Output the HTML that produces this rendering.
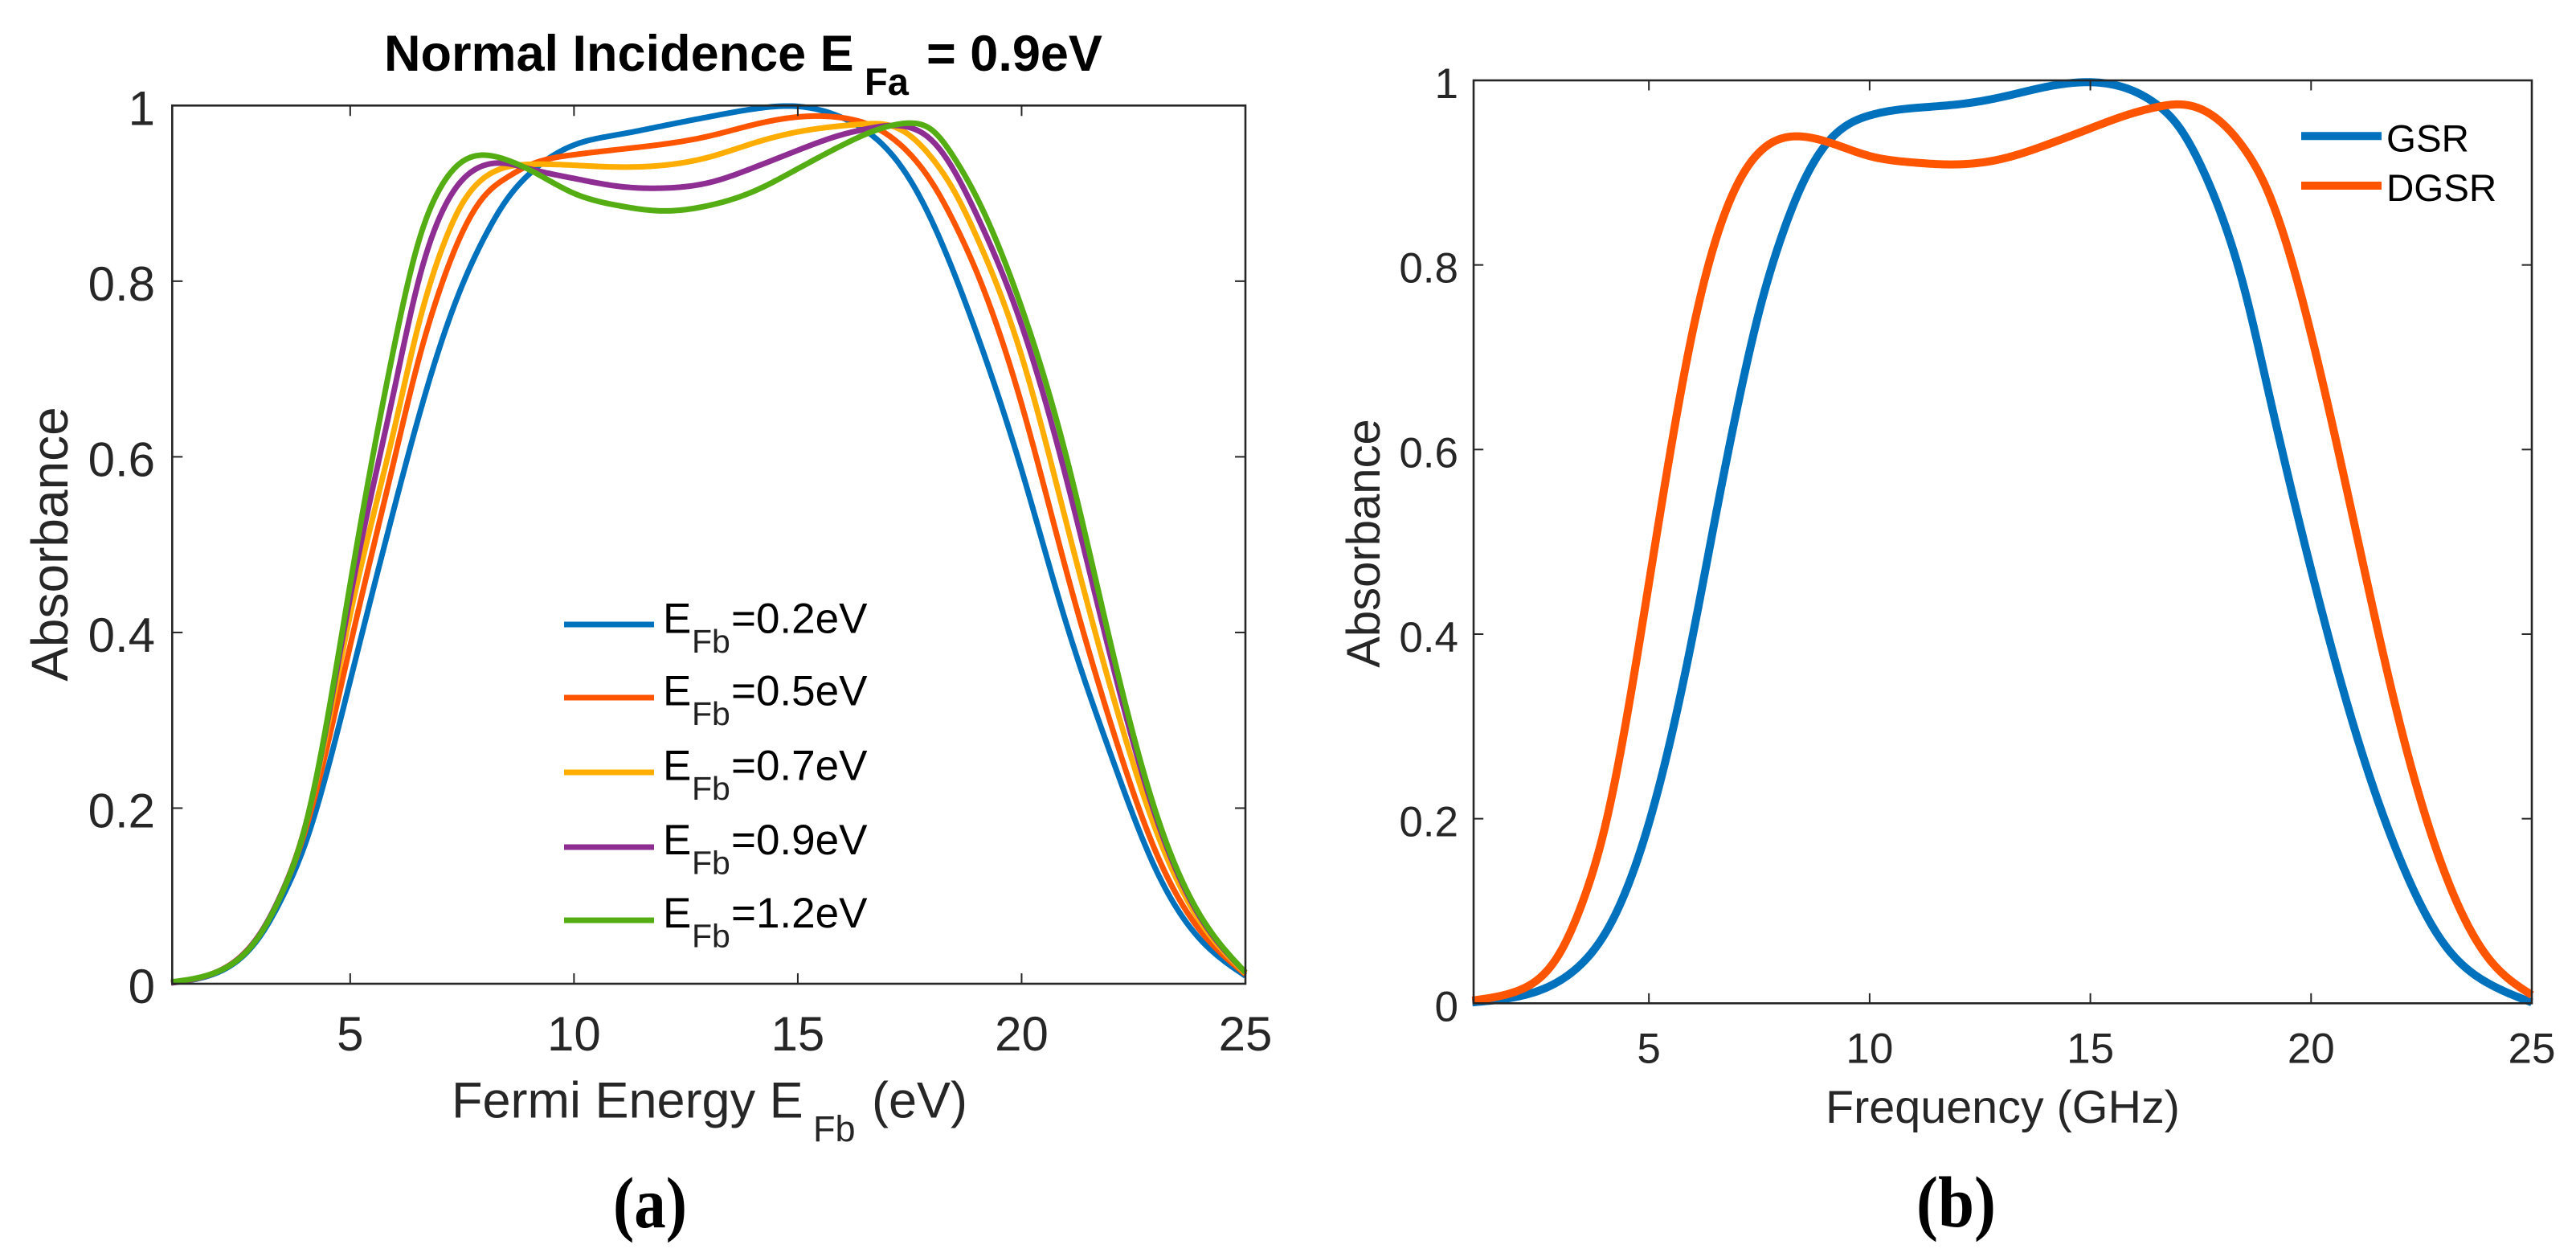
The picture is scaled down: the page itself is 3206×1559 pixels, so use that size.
<!DOCTYPE html>
<html lang="en">
<head>
<meta charset="utf-8">
<title>Absorbance charts</title>
<style>
html,body{margin:0;padding:0;background:#fff}
svg{display:block}
text{font-family:"Liberation Sans",Arial,sans-serif}
.tick-label{fill:#262626}
.serif{font-family:"Liberation Serif",serif;font-weight:bold;fill:#000}
</style>
</head>
<body>
<svg id="figure" xmlns="http://www.w3.org/2000/svg" width="3206" height="1559" viewBox="0 0 3206 1559">
  <rect x="0" y="0" width="3206" height="1559" fill="#fff"/>

  <g id="panel-a">
    <g id="a-lines"></g>
    <rect x="214.3" y="131.3" width="1335.7" height="1092.7" fill="none" stroke="#262626" stroke-width="2.6"/>
    <g id="a-ticks"></g>
    <text x="478" y="88" font-size="63" font-weight="bold" fill="#000">Normal Incidence E</text>
    <text x="1076" y="118" font-size="47" font-weight="bold" fill="#000">Fa</text>
    <text x="1153" y="88" font-size="63" font-weight="bold" fill="#000">= 0.9eV</text>
    <text x="562" y="1390.5" font-size="63" fill="#262626">Fermi Energy E</text>
    <text x="1012" y="1420" font-size="45" fill="#262626">Fb</text>
    <text x="1085" y="1390.5" font-size="63" fill="#262626">(eV)</text>
    <text transform="translate(84,677) rotate(-90)" text-anchor="middle" font-size="64" fill="#262626">Absorbance</text>
    <g id="a-legend"></g>
    <text x="763" y="1527" font-size="90" textLength="92" lengthAdjust="spacingAndGlyphs" class="serif">(a)</text>
  </g>

  <g id="panel-b">
    <g id="b-lines"></g>
    <rect x="1834" y="100" width="1317" height="1148.3" fill="none" stroke="#262626" stroke-width="2.6"/>
    <g id="b-ticks"></g>
    <text x="2272" y="1397" font-size="57.5" fill="#262626">Frequency (GHz)</text>
    <text transform="translate(1717,676) rotate(-90)" text-anchor="middle" font-size="58" fill="#262626">Absorbance</text>
    <g id="b-legend"></g>
    <text x="2385" y="1526" font-size="90" textLength="99" lengthAdjust="spacingAndGlyphs" class="serif">(b)</text>
  </g>
</svg>

<script>
// ---------- Panel (a): absorbance vs Fermi energy ----------
const aXTicks = [5, 10, 15, 20, 25];
const aYTicks = [0, 0.2, 0.4, 0.6, 0.8, 1];
const aYTickLabels = ['0', '0.2', '0.4', '0.6', '0.8', '1'];
const aSeriesNames = ['0.2eV', '0.5eV', '0.7eV', '0.9eV', '1.2eV'];

const aSamples = [1, 2, 3, 3.5, 4, 5, 6, 6.5, 7, 7.5, 8, 8.5, 9, 10, 11, 12, 13, 14, 15, 16, 16.5, 17, 17.5, 18, 18.5, 19, 20, 21, 22, 23, 24, 25];
const efb02 = [0.001, 0.012, 0.055, 0.1, 0.16, 0.345, 0.545, 0.64, 0.725, 0.795, 0.85, 0.893, 0.922, 0.955, 0.967, 0.977, 0.987, 0.996, 0.999, 0.986, 0.972, 0.95, 0.916, 0.868, 0.808, 0.74, 0.585, 0.41, 0.26, 0.13, 0.05, 0.009];
const efb05 = [0.001, 0.013, 0.058, 0.106, 0.175, 0.385, 0.6, 0.705, 0.79, 0.855, 0.897, 0.918, 0.932, 0.944, 0.95, 0.956, 0.965, 0.978, 0.987, 0.986, 0.98, 0.967, 0.945, 0.912, 0.866, 0.81, 0.66, 0.47, 0.295, 0.15, 0.06, 0.011];
const efb07 = [0.001, 0.013, 0.058, 0.107, 0.18, 0.42, 0.635, 0.745, 0.83, 0.888, 0.918, 0.93, 0.933, 0.932, 0.93, 0.932, 0.941, 0.957, 0.97, 0.977, 0.979, 0.978, 0.966, 0.94, 0.902, 0.85, 0.715, 0.525, 0.335, 0.175, 0.07, 0.012];
const efb09 = [0.001, 0.013, 0.058, 0.107, 0.18, 0.44, 0.68, 0.795, 0.873, 0.915, 0.932, 0.934, 0.928, 0.917, 0.908, 0.906, 0.912, 0.929, 0.949, 0.967, 0.973, 0.977, 0.975, 0.96, 0.925, 0.875, 0.75, 0.575, 0.37, 0.19, 0.075, 0.013];
const efb12 = [0.002, 0.013, 0.057, 0.106, 0.18, 0.455, 0.73, 0.84, 0.905, 0.936, 0.9435, 0.938, 0.927, 0.9, 0.886, 0.88, 0.886, 0.902, 0.928, 0.955, 0.967, 0.976, 0.98, 0.972, 0.94, 0.895, 0.77, 0.6, 0.385, 0.195, 0.077, 0.013];

// ---------- Panel (b): absorbance vs frequency ----------
const bXTicks = [5, 10, 15, 20, 25];
const bYTicks = [0, 0.2, 0.4, 0.6, 0.8, 1];
const bYTickLabels = ['0', '0.2', '0.4', '0.6', '0.8', '1'];
const bSeriesNames = ['GSR', 'DGSR'];

const bSamples = [1, 2, 3, 3.5, 4, 5, 6, 6.5, 7, 7.5, 8, 8.5, 9, 10, 11, 12, 13, 14, 15, 16, 16.5, 17, 17.5, 18, 18.5, 19, 20, 21, 22, 23, 24, 25];
const gsr = [0.001, 0.007, 0.025, 0.044, 0.075, 0.195, 0.4, 0.525, 0.645, 0.75, 0.83, 0.89, 0.93, 0.962, 0.97, 0.974, 0.982, 0.993, 0.998, 0.988, 0.974, 0.95, 0.908, 0.85, 0.772, 0.67, 0.47, 0.295, 0.158, 0.065, 0.022, 0.001];
const dgsr = [0.003, 0.013, 0.056, 0.11, 0.19, 0.455, 0.73, 0.825, 0.887, 0.922, 0.937, 0.939, 0.934, 0.918, 0.911, 0.909, 0.915, 0.93, 0.948, 0.965, 0.971, 0.974, 0.969, 0.953, 0.925, 0.882, 0.725, 0.515, 0.305, 0.145, 0.05, 0.009];

const SVG_NS = 'http://www.w3.org/2000/svg';
const FRAME_A = { left: 213, right: 1550, top: 131.3, bottom: 1224 };
const FRAME_B = { left: 1832.4, right: 3151, top: 100, bottom: 1248.3 };

function axisX(frame, v) { return frame.left + (v - 1) / 24 * (frame.right - frame.left); }
function axisY(frame, v) { return frame.bottom - v * (frame.bottom - frame.top); }

function make(tag, attrs, text) {
  const el = document.createElementNS(SVG_NS, tag);
  for (const k in attrs) el.setAttribute(k, attrs[k]);
  if (text !== undefined) el.textContent = text;
  return el;
}

// Natural cubic spline through the read samples, so curves stay smooth.
function splineSecondDerivatives(xs, ys) {
  const n = xs.length;
  const y2 = new Array(n).fill(0);
  const u = new Array(n).fill(0);
  for (let i = 1; i < n - 1; i++) {
    const sig = (xs[i] - xs[i - 1]) / (xs[i + 1] - xs[i - 1]);
    const p = sig * y2[i - 1] + 2;
    y2[i] = (sig - 1) / p;
    const d = (ys[i + 1] - ys[i]) / (xs[i + 1] - xs[i]) - (ys[i] - ys[i - 1]) / (xs[i] - xs[i - 1]);
    u[i] = (6 * d / (xs[i + 1] - xs[i - 1]) - sig * u[i - 1]) / p;
  }
  for (let k = n - 2; k >= 0; k--) y2[k] = y2[k] * y2[k + 1] + u[k];
  return y2;
}

function curvePath(frame, xs, ys) {
  const y2 = splineSecondDerivatives(xs, ys);
  let d = '';
  for (let i = 0; i < xs.length - 1; i++) {
    const h = xs[i + 1] - xs[i];
    const steps = Math.max(4, Math.round(h * 16));
    for (let s = (i === 0 ? 0 : 1); s <= steps; s++) {
      const b = s / steps, a = 1 - b;
      const v = a * ys[i] + b * ys[i + 1] + ((a * a * a - a) * y2[i] + (b * b * b - b) * y2[i + 1]) * h * h / 6;
      const px = axisX(frame, xs[i] + b * h);
      const py = axisY(frame, v);
      d += (d ? 'L' : 'M') + px.toFixed(2) + ' ' + py.toFixed(2);
    }
  }
  return d;
}

function drawSeries(parent, frame, xs, ys, color, width, name) {
  const path = make('path', { d: curvePath(frame, xs, ys), fill: 'none', stroke: color, 'stroke-width': width, 'stroke-linejoin': 'round' });
  
  
  parent.appendChild(path);
}

function drawTicks(parent, frame, xTicks, yTicks, yLabels, opt) {
  xTicks.forEach(v => {
    const x = axisX(frame, v);
    if (v < 25) {
      const t1 = make('line', { x1: x, x2: x, y1: frame.bottom, y2: frame.bottom - opt.len, stroke: '#262626', 'stroke-width': 2 });
      
      
      parent.appendChild(t1);
      const t2 = make('line', { x1: x, x2: x, y1: frame.top, y2: frame.top + opt.len, stroke: '#262626', 'stroke-width': 2 });
      
      
      parent.appendChild(t2);
    }
    const lab = make('text', { x: x, y: opt.xBase, 'text-anchor': 'middle', 'font-size': opt.font, class: 'tick-label' }, String(v));
    
    
    parent.appendChild(lab);
  });
  yTicks.forEach((v, i) => {
    const y = axisY(frame, v);
    if (v > 0 && v < 1) {
      const t1 = make('line', { x1: frame.left + 1.3, x2: frame.left + 1.3 + opt.len, y1: y, y2: y, stroke: '#262626', 'stroke-width': 2 });
      
      
      parent.appendChild(t1);
      const t2 = make('line', { x1: frame.right, x2: frame.right - opt.len, y1: y, y2: y, stroke: '#262626', 'stroke-width': 2 });
      
      
      parent.appendChild(t2);
    }
    const lab = make('text', { x: opt.yRight, y: y + opt.yOff, 'text-anchor': 'end', 'font-size': opt.font, class: 'tick-label' }, yLabels[i]);
    
    
    parent.appendChild(lab);
  });
}

const aColors = ['#0072BD', '#FF5500', '#FFAD00', '#8E2D92', '#55AD14'];
const bColors = ['#0072BD', '#FF5500'];

const aLines = document.getElementById('a-lines');
drawSeries(aLines, FRAME_A, aSamples, efb02, aColors[0], 7, 'series-efb-0.2ev');
drawSeries(aLines, FRAME_A, aSamples, efb05, aColors[1], 7, 'series-efb-0.5ev');
drawSeries(aLines, FRAME_A, aSamples, efb07, aColors[2], 7, 'series-efb-0.7ev');
drawSeries(aLines, FRAME_A, aSamples, efb09, aColors[3], 7, 'series-efb-0.9ev');
drawSeries(aLines, FRAME_A, aSamples, efb12, aColors[4], 7, 'series-efb-1.2ev');

const bLines = document.getElementById('b-lines');
drawSeries(bLines, FRAME_B, bSamples, gsr, bColors[0], 10, 'series-gsr');
drawSeries(bLines, FRAME_B, bSamples, dgsr, bColors[1], 10, 'series-dgsr');

drawTicks(document.getElementById('a-ticks'), FRAME_A, aXTicks, aYTicks, aYTickLabels, { len: 13, font: 60, xBase: 1307, yRight: 193, yOff: 24 });
drawTicks(document.getElementById('b-ticks'), FRAME_B, bXTicks, bYTicks, bYTickLabels, { len: 12.5, font: 53, xBase: 1322.5, yRight: 1815, yOff: 22 });

// Legends
const aLegend = document.getElementById('a-legend');
const aLegendLineY = [777, 868, 961, 1054, 1145];
const aLegendBase = [787.3, 877.7, 970.7, 1063, 1154];
aSeriesNames.forEach((label, i) => {
  const ln = make('line', { x1: 702, x2: 814, y1: aLegendLineY[i], y2: aLegendLineY[i], stroke: aColors[i], 'stroke-width': 7 });
  
  
  aLegend.appendChild(ln);
  const e = make('text', { x: 825, y: aLegendBase[i], 'font-size': 53, fill: '#000' }, 'E');
  
  
  aLegend.appendChild(e);
  const s = make('text', { x: 861, y: aLegendBase[i] + 24.5, 'font-size': 41, fill: '#222' }, 'Fb');
  
  
  aLegend.appendChild(s);
  const v = make('text', { x: 910, y: aLegendBase[i], 'font-size': 53, fill: '#000' }, '=' + label);
  
  
  aLegend.appendChild(v);
});

const bLegend = document.getElementById('b-legend');
const bLegendLineY = [169.3, 231];
const bLegendBase = [188.3, 250];
bSeriesNames.forEach((label, i) => {
  const ln = make('line', { x1: 2864, x2: 2964, y1: bLegendLineY[i], y2: bLegendLineY[i], stroke: bColors[i], 'stroke-width': 10 });
  
  
  bLegend.appendChild(ln);
  const t = make('text', { x: 2970, y: bLegendBase[i], 'font-size': 47.5, fill: '#000' }, label);
  
  
  bLegend.appendChild(t);
});
</script>
</body>
</html>
